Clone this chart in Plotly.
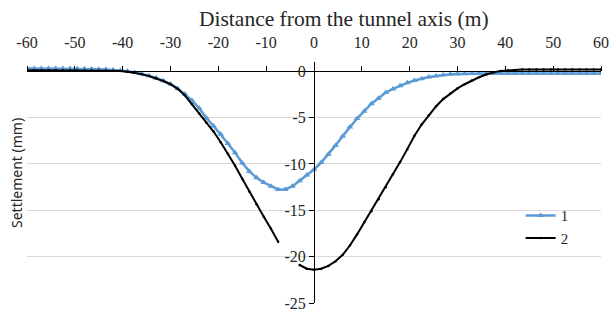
import plotly.graph_objects as go

# distance from the tunnel axis (m), every 1.5 m
x_m = [-60 + 1.5 * i for i in range(81)]

# series 1 (blue) settlement (mm)
s1 = [0.30, 0.30, 0.30, 0.30, 0.30, 0.30, 0.29, 0.28, 0.27, 0.25,
      0.23, 0.20, 0.15, 0.08, 0.00, -0.12, -0.28, -0.48, -0.72, -1.02,
      -1.38, -1.85, -2.45, -3.15, -4.00, -5.05, -5.90, -6.80, -7.80, -8.80,
      -9.90, -10.80, -11.50, -12.00, -12.40, -12.75, -12.75, -12.40, -11.80, -11.20,
      -10.60, -9.85, -8.95, -8.00, -7.00, -6.00, -5.10, -4.30, -3.50, -2.90,
      -2.30, -1.90, -1.55, -1.25, -1.00, -0.80, -0.62, -0.50, -0.40, -0.33,
      -0.30, -0.27, -0.25, -0.25, -0.25, -0.25, -0.25, -0.25, -0.25, -0.25,
      -0.25, -0.25, -0.25, -0.25, -0.25, -0.25, -0.25, -0.25, -0.25, -0.25,
      -0.25]

# series 2 (black) settlement (mm); None = missing readings
s2 = [0.10, 0.10, 0.10, 0.10, 0.10, 0.10, 0.10, 0.10, 0.10, 0.10,
      0.09, 0.07, 0.05, 0.02, -0.05, -0.15, -0.32, -0.52, -0.75, -1.05,
      -1.40, -1.90, -2.60, -3.55, -4.55, -5.55, -6.50, -7.65, -8.90, -10.20,
      -11.60, -13.00, -14.35, -15.70, -17.00, -18.40, None, None, -20.90, -21.30,
      -21.40, -21.30, -21.00, -20.50, -19.80, -18.80, -17.60, -16.30, -15.10, -13.80,
      -12.50, -11.10, -9.80, -8.40, -6.95, -5.75, -4.75, -3.80, -3.00, -2.40,
      -1.85, -1.40, -1.00, -0.65, -0.35, -0.12, 0.02, 0.10, 0.15, 0.18,
      0.20, 0.20, 0.20, 0.20, 0.20, 0.20, 0.20, 0.20, 0.20, 0.20,
      0.20]

x_ticks = [-60, -50, -40, -30, -20, -10, 0, 10, 20, 30, 40, 50, 60]
x_ticktext = ["-60", "-50", "-40", "-30", "-20", "-10", "0", "10", "20", "30", "40", "50", "60"]
y_ticks = [0, -5, -10, -15, -20, -25]
y_ticktext = ["0", "-5", "-10", "-15", "-20", "-25"]

SERIF = "Liberation Serif"
BLUE = "#5B9BD5"
TXT = "#262626"

y_min, y_max = -25, 1

fig = go.Figure()
fig.add_trace(go.Scatter(
    x=x_m, y=s1, name="1", mode="lines+markers",
    line=dict(color=BLUE, width=2.5),
    marker=dict(symbol="triangle-up", size=6, color=BLUE),
))
fig.add_trace(go.Scatter(
    x=x_m, y=s2, name="2", mode="lines+markers",
    line=dict(color="#000000", width=2),
    marker=dict(symbol="circle", size=2.5, color="#000000"),
    connectgaps=False,
))

fig.update_layout(
    width=611, height=312,
    margin=dict(l=27, r=10, t=62, b=9, autoexpand=False),
    paper_bgcolor="white", plot_bgcolor="white",
    font=dict(family=SERIF, size=16, color=TXT),
    showlegend=True,
    legend=dict(x=0.86, y=0.43, xanchor="left", yanchor="top",
                bgcolor="rgba(0,0,0,0)", font=dict(family=SERIF, size=15, color=TXT),
                itemwidth=30),
    xaxis=dict(
        range=[-60, 60], side="top", anchor="free",
        position=(0 - y_min) / (y_max - y_min),
        showline=True, linecolor="#000000", linewidth=1,
        ticks="outside", ticklen=5, tickcolor="#000000",
        tickvals=x_ticks, ticktext=x_ticktext,
        tickfont=dict(family=SERIF, size=16, color=TXT),
        ticklabelstandoff=12,
        showgrid=False, zeroline=False, automargin=False,
    ),
    yaxis=dict(
        range=[y_min, y_max], anchor="free", position=0.5,
        showline=True, linecolor="#000000", linewidth=1,
        ticks="outside", ticklen=5, tickcolor="#000000",
        tickvals=y_ticks, ticktext=y_ticktext,
        tickfont=dict(family=SERIF, size=16, color=TXT),
        showgrid=True, gridcolor="#d9d9d9", gridwidth=1,
        zeroline=False, automargin=False,
    ),
    annotations=[
        dict(text="Distance from the tunnel axis (m)", xref="paper", yref="paper",
             x=(344 - 27) / 574, y=1, yshift=43, xanchor="center", yanchor="middle",
             showarrow=False, font=dict(family=SERIF, size=21.5, color=TXT)),
        dict(text="Settlement (mm)", xref="paper", yref="paper",
             x=0, xshift=-11, y=(303 - 173) / 241, textangle=-90,
             xanchor="center", yanchor="middle",
             showarrow=False, font=dict(family="Noto Sans", size=14, color=TXT)),
    ],
)

fig.write_html("out.html", config={"displayModeBar": False},
               post_script="document.body.style.margin='0px';")
